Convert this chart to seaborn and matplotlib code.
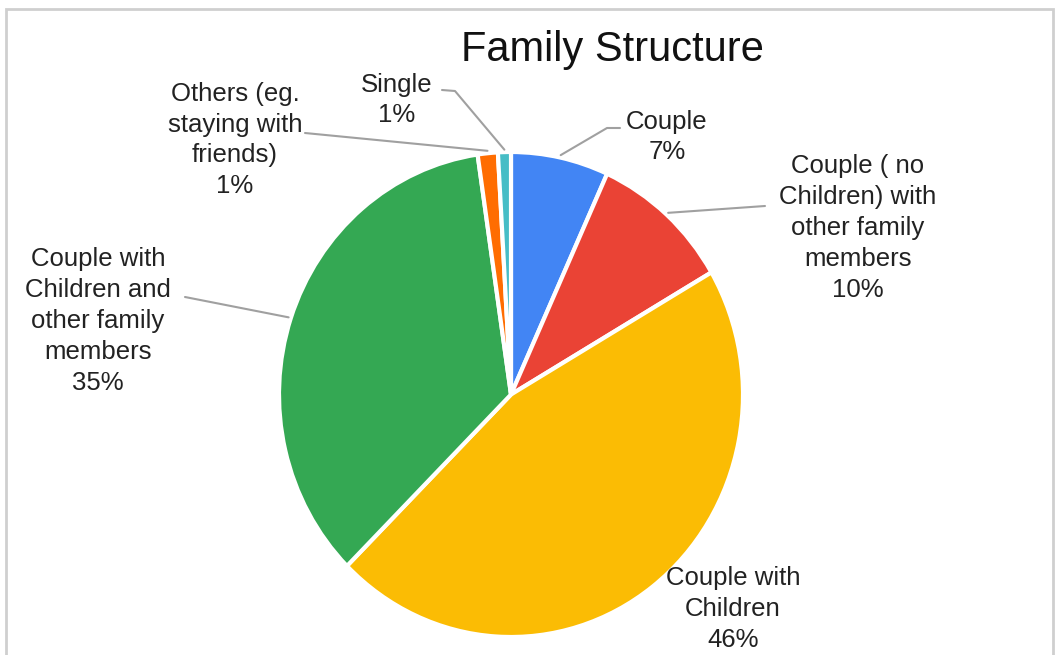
import matplotlib
matplotlib.use("Agg")
import matplotlib.pyplot as plt
from matplotlib.lines import Line2D
from matplotlib.patches import Rectangle
import numpy as np
import seaborn as sns

# Household make-up of respondents (percent)
categories = [
    "Couple",
    "Couple ( no\nChildren) with\nother family\nmembers",
    "Couple with\nChildren",
    "Couple with\nChildren and\nother family\nmembers",
    "Others (eg.\nstaying with\nfriends)",
    "Single",
]
shares = [6.8, 9.8, 45.9, 35.2, 1.4, 0.9]
colors = ["#4285F4", "#EA4335", "#FBBC04", "#34A853", "#FF6D01", "#46BDC6"]
title = "Family Structure"

sns.set_theme(style="white")
plt.rcParams["font.family"] = ["Liberation Sans", "DejaVu Sans"]

W, H = 1056, 655
fig = plt.figure(figsize=(W / 100, H / 100), dpi=100)
fig.patch.set_facecolor("white")

# pie centre (511, 394.5) px, radii 232 x 242.5 px
cx, cy, rx, ry = 511, 394.5, 232, 242.5
ax = fig.add_axes([(cx - rx) / W, (H - cy - ry) / H, 2 * rx / W, 2 * ry / H])
wedges, _ = ax.pie(
    shares,
    colors=colors,
    startangle=90,
    counterclock=False,
    wedgeprops=dict(edgecolor="white", linewidth=3.0),
)
ax.set_aspect("auto")
ax.set_xlim(-1, 1)
ax.set_ylim(-1, 1)
ax.axis("off")


def px(x, y):
    """pixel position (from top-left) -> figure fraction"""
    return x / W, 1 - y / H


# label block centres and leader-line start points, in pixels
label_pos = [(667, 137), (858, 228), (733, 609), (98, 321), (235, 140), (397, 100)]
leader_start = [
    [(620, 128), (607, 128)],
    [(765, 206)],
    None,
    [(185, 297)],
    [(305, 133)],
    [(442, 90), (455, 91)],
]

text_color = "#222222"
cum = 0.0
fig.canvas.draw()
for name, v, (lx, ly), lead in zip(categories, shares, label_pos, leader_start):
    mid = np.deg2rad(90 - 360 * (cum + v / 2) / 100)
    cum += v
    fig.text(*px(lx, ly), f"{name}\n{round(v)}%", ha="center", va="center",
             fontsize=18.5, color=text_color, linespacing=1.36)
    if lead is None:
        continue
    anchor_disp = ax.transData.transform((1.01 * np.cos(mid), 1.01 * np.sin(mid)))
    ax_fx, ax_fy = fig.transFigure.inverted().transform(anchor_disp)
    pts = [px(*p) for p in lead] + [(ax_fx, ax_fy)]
    xs, ys = zip(*pts)
    fig.add_artist(Line2D(xs, ys, transform=fig.transFigure, color="#a0a0a0",
                          linewidth=1.5, solid_capstyle="round"))

fig.text(*px(612, 50), title, ha="center", va="center", fontsize=30, color="#111111")

# light frame around the chart area
fig.add_artist(Rectangle(px(6, 700), (1053 - 6) / W, (700 - 9) / H,
                         transform=fig.transFigure, fill=False,
                         edgecolor="#cfcfcf", linewidth=2))

fig.savefig("out.png", dpi=100, facecolor="white")
